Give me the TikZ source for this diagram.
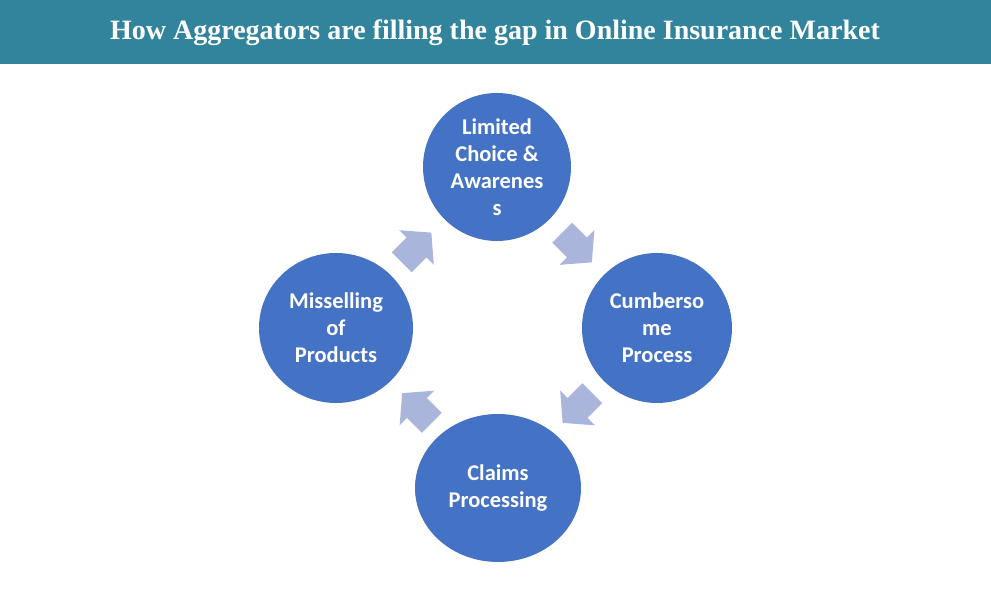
\documentclass[tikz,border=0pt]{standalone}
\usepackage{fontspec}
\setmainfont{Liberation Serif}
\newfontfamily\calibri{Carlito}
\usetikzlibrary{shapes.geometric,calc}

\definecolor{titlebar}{HTML}{31849B}
\definecolor{cycleblue}{HTML}{4472C4}
\definecolor{arrowblue}{HTML}{A9B5DB}

\begin{document}
\begin{tikzpicture}[x=1pt, y=1pt,
  stage/.style={ellipse, fill=cycleblue, draw=none, inner sep=0pt, align=center,
    text=white, font=\calibri\bfseries\fontsize{22.5}{27}\selectfont},
  flow/.style={fill=arrowblue, draw=none}]
  \useasboundingbox (0, 0) rectangle (991, 591);

  % Title
  \fill[titlebar] (0, 527) rectangle (991, 591);
  \node (title) at (495, 558) {\fontsize{28}{32}\selectfont\bfseries\color{white}How Aggregators are filling the gap in Online Insurance Market};

  % Cycle
  \node[stage, minimum width=148, minimum height=148] (choice) at (497, 424) {Limited\\Choice \&\\Awarenes\\s};
  \node[stage, minimum width=150, minimum height=150] (process) at (657, 263) {Cumberso\\me\\Process};
  \node[stage, minimum width=166, minimum height=148] (claims) at (498, 103) {Claims\\Processing};
  \node[stage, minimum width=154, minimum height=150] (misselling) at (336, 263) {Misselling\\of\\Products};

  % Arrows between stages
  \fill[flow, shift={($(choice)!0.5!(process)$)}, rotate=-45]
    (-21, 14) -- (0, 14) -- (0, 24.5) -- (21, 0) -- (0, -24.5) -- (0, -14) -- (-21, -14) -- cycle;
  \fill[flow, shift={($(process)!0.5!(claims)$)}, rotate=-135]
    (-21, 14) -- (0, 14) -- (0, 24.5) -- (21, 0) -- (0, -24.5) -- (0, -14) -- (-21, -14) -- cycle;
  \fill[flow, shift={($(claims)!0.5!(misselling)$)}, rotate=135]
    (-21, 14) -- (0, 14) -- (0, 24.5) -- (21, 0) -- (0, -24.5) -- (0, -14) -- (-21, -14) -- cycle;
  \fill[flow, shift={($(misselling)!0.5!(choice)$)}, rotate=45]
    (-21, 14) -- (0, 14) -- (0, 24.5) -- (21, 0) -- (0, -24.5) -- (0, -14) -- (-21, -14) -- cycle;
\end{tikzpicture}
\end{document}
